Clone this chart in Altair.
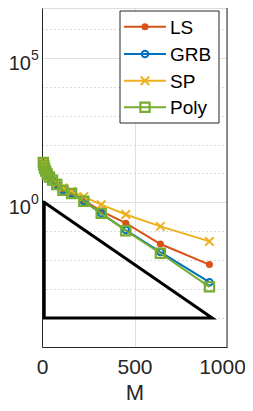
import altair as alt
import pandas as pd

# ---- data ----
M = [7, 10, 14, 20, 28, 40, 57, 80, 113, 160, 226, 320, 453, 640, 905]
LS = [24.0, 19.05, 15.1, 12.0, 9.55, 7.59, 5.89, 4.17, 2.63, 2.14, 1.17, 0.501, 0.191, 0.0363, 0.00708]
GRB = [24.0, 19.05, 15.1, 12.0, 9.55, 7.59, 5.89, 4.17, 2.63, 2.04, 1.10, 0.417, 0.110, 0.0191, 0.00174]
SP = [25.7, 20.4, 16.2, 12.9, 10.2, 8.13, 6.31, 4.57, 3.16, 2.40, 1.58, 0.832, 0.380, 0.148, 0.0447]
Poly = [24.0, 19.05, 15.1, 12.0, 9.55, 7.59, 5.89, 4.17, 2.63, 2.04, 1.10, 0.417, 0.105, 0.0174, 0.0012]

series_names = ["LS", "GRB", "SP", "Poly"]
series_values = [LS, GRB, SP, Poly]

tri_M = [12, 12, 920, 12]
tri_val = [1.0, 1e-4, 1e-4, 1.0]

x_ticks = [0, 500, 1000]
y_ticks = [1e-5, 1e-4, 1e-3, 1e-2, 1e-1, 1, 10, 100, 1e3, 1e4, 1e5, 1e6]
y_label_vals = [1, 1e5]
y_label_base = ["10", "10"]
y_label_exp = ["0", "5"]

colors = {"LS": "#D95319", "GRB": "#0072BD", "SP": "#EDB120", "Poly": "#77AC30"}
XPATH = "M-1,-1L1,1M1,-1L-1,1"

W, H = 185, 339
FONT = "Liberation Sans"
TXT = "#262626"

xscale = alt.Scale(domain=[0, 1000], nice=False, zero=False)
yscale = alt.Scale(type="log", domain=[1e-5, 5.25e6], nice=False)

major = "datum.value == 1 || datum.value == 100000"

x_axis = alt.Axis(
    values=x_ticks, title="M", labelFontSize=21, labelFont=FONT, labelColor=TXT,
    titleFontSize=22, titleFont=FONT, titleColor=TXT, titleFontWeight="normal",
    titlePadding=5, labelPadding=9, ticks=False, domainColor=TXT, domainWidth=1,
    grid=True, gridColor="#e0e0e0", gridWidth=1, labelFlush=False, format="d",
    labelOffset={"condition": {"test": "datum.value == 1000", "value": -5}, "value": 0},
)
y_axis = alt.Axis(
    values=y_ticks, title=None, labels=False, ticks=False,
    domainColor=TXT, domainWidth=1, grid=True,
    gridColor={"condition": {"test": major, "value": "#e0e0e0"}, "value": "#b8b8b8"},
    gridDash={"condition": {"test": major, "value": []}, "value": [1, 3]},
    gridWidth=1,
)

X = alt.X("M:Q", scale=xscale, axis=x_axis)
Y = alt.Y("v:Q", scale=yscale, axis=y_axis)

tri_df = pd.DataFrame({"M": tri_M, "v": tri_val, "o": list(range(len(tri_M)))})
triangle = alt.Chart(tri_df).mark_line(color="black", strokeWidth=3, strokeCap="square").encode(
    x=X, y=Y, order="o:Q",
)

layers = [triangle]

# y tick labels as 10 + superscript exponent
lab_df = pd.DataFrame({"v": y_label_vals, "base": y_label_base, "exp": y_label_exp})
layers.append(alt.Chart(lab_df).mark_text(
    align="right", baseline="middle", fontSize=20, font=FONT, color=TXT, dy=6
).encode(x=alt.value(-11), y=Y, text="base:N"))
layers.append(alt.Chart(lab_df).mark_text(
    align="left", baseline="middle", fontSize=14, font=FONT, color=TXT, dy=-2
).encode(x=alt.value(-11), y=Y, text="exp:N"))

marker = {
    "LS": dict(shape="circle", filled=True, size=50, strokeWidth=1.5),
    "GRB": dict(shape="circle", filled=False, size=42, strokeWidth=2),
    "SP": dict(shape=XPATH, filled=False, size=72, strokeWidth=2),
    "Poly": dict(shape="square", filled=False, size=85, strokeWidth=2.2),
}
for name, vals in zip(series_names, series_values):
    df = pd.DataFrame({"M": M, "v": vals})
    c = colors[name]
    layers.append(alt.Chart(df).mark_line(color=c, strokeWidth=2).encode(x=X, y=Y))
    mk = marker[name]
    layers.append(
        alt.Chart(df).mark_point(
            color=c, shape=mk["shape"], filled=mk["filled"], size=mk["size"],
            strokeWidth=mk["strokeWidth"], opacity=1,
        ).encode(x=X, y=Y)
    )

# right frame line
frame = alt.Chart(pd.DataFrame({"a": [0]})).mark_rule(color=TXT, strokeWidth=1).encode(
    x=alt.value(W), y=alt.value(0), y2=alt.value(H)
)
layers.append(frame)

# legend
box = alt.Chart(pd.DataFrame({"a": [0]})).mark_rect(
    fill="white", stroke=TXT, strokeWidth=1
).encode(x=alt.value(78), x2=alt.value(177), y=alt.value(3), y2=alt.value(115))
layers.append(box)
row_y = [18.7, 46, 72.7, 99.3]
for name, ry in zip(series_names, row_y):
    c = colors[name]
    d = pd.DataFrame({"series": [name]})
    layers.append(alt.Chart(d).mark_rule(color=c, strokeWidth=2).encode(
        x=alt.value(82), x2=alt.value(124), y=alt.value(ry)))
    mk = marker[name]
    layers.append(alt.Chart(d).mark_point(
        color=c, shape=mk["shape"], filled=mk["filled"], size=mk["size"],
        strokeWidth=mk["strokeWidth"], opacity=1,
    ).encode(x=alt.value(103), y=alt.value(ry)))
    layers.append(alt.Chart(d).mark_text(
        align="left", baseline="middle", fontSize=19, font=FONT, color="black", dy=1
    ).encode(x=alt.value(128), y=alt.value(ry), text="series:N"))

chart = alt.layer(*layers).properties(
    width=W, height=H,
    autosize=alt.AutoSizeParams(type="none"),
    padding={"left": 34, "top": 0, "right": 18, "bottom": 56},
).configure_view(stroke=None).configure(background="white")

chart.save("out.html", embed_options={"renderer": "svg", "actions": False})
